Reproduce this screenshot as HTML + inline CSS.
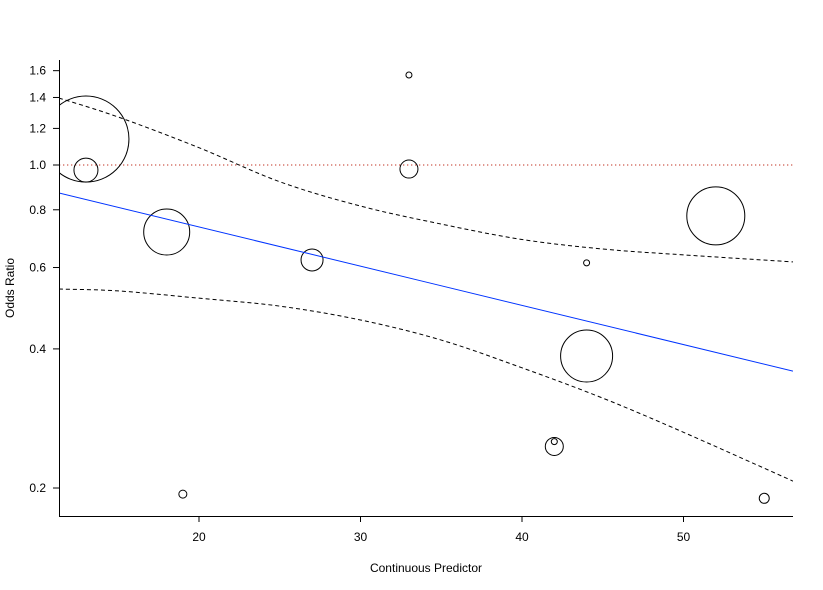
<!DOCTYPE html>
<html><head><meta charset="utf-8"><style>
body{margin:0;background:#fff}
svg{display:block;font-family:"Liberation Sans",sans-serif}
</style></head><body>
<svg width="823" height="590" xmlns="http://www.w3.org/2000/svg">
<defs><clipPath id="pc"><rect x="59" y="60" width="734" height="456"/></clipPath></defs>
<g id="plot" clip-path="url(#pc)"></g>
<g id="axes"></g>
<text x="426" y="572" text-anchor="middle" font-size="12">Continuous Predictor</text>
<text transform="translate(14,288) rotate(-90)" text-anchor="middle" font-size="12">Odds Ratio</text>
</svg>
<script>
const ptX=[13,13,18,19,27,33,33,42,42,44,44,52,55];
const ptOR=[1.138,0.975,0.716,0.194,0.623,1.566,0.98,0.246,0.252,0.614,0.386,0.776,0.190];
const ptR=[43,12,23,4,11,3,9,9,3,3,26,29,5];
const gridX=[11.33,15,20,25,30,35,40,45,50,56.78];
const upperOR=[1.396,1.27,1.09,0.92,0.815,0.745,0.69,0.658,0.639,0.617];
const lowerOR=[0.539,0.534,0.515,0.495,0.462,0.418,0.364,0.313,0.264,0.207];
const predX=[11.33,56.78];
const predOR=[0.870,0.358];
const xTicks=[20,30,40,50];
const yTicks=[0.2,0.4,0.6,0.8,1.0,1.2,1.4,1.6];
const yTickLabels=["0.2","0.4","0.6","0.8","1.0","1.2","1.4","1.6"];
const NS="http://www.w3.org/2000/svg";
const sx=v=>199+(v-20)*16.15;
const sy=v=>165-Math.log(v)*200.7;
const plot=document.getElementById('plot'),axes=document.getElementById('axes');
function mk(tag,attrs,parent){const e=document.createElementNS(NS,tag);for(const k in attrs)e.setAttribute(k,attrs[k]);parent.appendChild(e);return e;}
let e=mk('line',{x1:59,x2:793,y1:sy(1),y2:sy(1),stroke:'#c03020','stroke-dasharray':'1.3,2.7'},plot);


ptX.forEach((x,i)=>{const c=mk('circle',{cx:sx(x),cy:sy(ptOR[i]),r:ptR[i],fill:'none',stroke:'#000','stroke-width':1},plot);

});
function smooth(xs,ys){const P=xs.map((x,i)=>[sx(x),sy(ys[i])]);let d='M'+P[0][0]+','+P[0][1];
for(let i=0;i<P.length-1;i++){const p0=P[Math.max(0,i-1)],p1=P[i],p2=P[i+1],p3=P[Math.min(P.length-1,i+2)];
const c1=[p1[0]+(p2[0]-p0[0])/6,p1[1]+(p2[1]-p0[1])/6],c2=[p2[0]-(p3[0]-p1[0])/6,p2[1]-(p3[1]-p1[1])/6];
d+=' C'+c1+' '+c2+' '+p2;}return d;}
function pl(xs,ys,attrs,name){const p=mk('path',Object.assign({d:smooth(xs,ys),fill:'none'},attrs),plot);

}
pl(gridX,upperOR,{stroke:'#000','stroke-dasharray':'4,3'},'upper-ci');
pl(gridX,lowerOR,{stroke:'#000','stroke-dasharray':'4,3'},'lower-ci');
pl(predX,predOR,{stroke:'#0033ff'},'regression-line');
e=mk('line',{x1:59.5,x2:59.5,y1:60,y2:516,stroke:'#000'},axes);


e=mk('line',{x1:59,x2:793,y1:516.5,y2:516.5,stroke:'#000'},axes);


xTicks.forEach(t=>{mk('line',{x1:sx(t),x2:sx(t),y1:516,y2:522,stroke:'#000'},axes);
const tx=mk('text',{x:sx(t),y:541,'text-anchor':'middle','font-size':12},axes);tx.textContent=t;

});
yTicks.forEach((t,i)=>{mk('line',{x1:53,x2:59,y1:sy(t),y2:sy(t),stroke:'#000'},axes);
const tx=mk('text',{x:46,y:sy(t)+4,'text-anchor':'end','font-size':12},axes);tx.textContent=yTickLabels[i];

});
</script>
</body></html>
